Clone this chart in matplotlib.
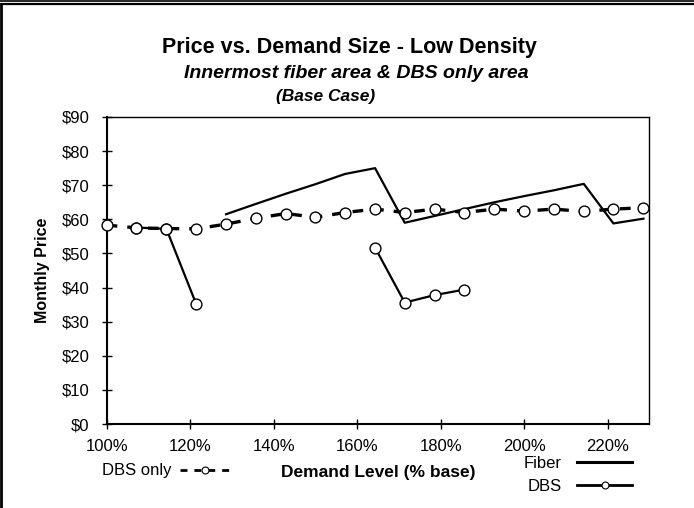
import numpy as np
import matplotlib
matplotlib.use("Agg")
from matplotlib import pyplot as plt
from matplotlib.lines import Line2D
from matplotlib.ticker import FuncFormatter

plt.rcParams["font.family"] = ["Liberation Sans", "DejaVu Sans"]

# demand level (% of base) at each step
demand = [100.0, 107.1, 114.3, 121.4, 128.6, 135.7, 142.9, 150.0, 157.1, 164.3,
          171.4, 178.6, 185.7, 192.9, 200.0, 207.1, 214.3, 221.4, 228.6]

dbs_only = [58.3, 57.5, 57.3, 57.2, 58.6, 60.3, 61.7, 60.6, 62.0, 63.0,
            62.0, 63.0, 62.0, 63.0, 62.4, 63.0, 62.3, 63.0, 63.4]

fiber = [np.nan, np.nan, np.nan, np.nan, 61.5, 64.5, 67.5, 70.3, 73.3, 75.0,
         59.0, 61.0, 63.0, 65.0, 66.8, 68.5, 70.4, 58.8, 60.2]

dbs = [np.nan, 57.6, 57.2, 35.3, np.nan, np.nan, np.nan, np.nan, np.nan, 51.7,
       35.6, 37.8, 39.4, np.nan, np.nan, np.nan, np.nan, np.nan, np.nan]

W, H = 694, 508
fig = plt.figure(figsize=(W / 100, H / 100), dpi=100)
ax = fig.add_axes([106.7 / W, 1 - 424 / H, (649.3 - 106.7) / W, (424 - 117) / H])

fib_line, = ax.plot(demand, fiber, color="black", lw=1.6, zorder=3)
dbs_line, = ax.plot(demand, dbs, color="black", lw=1.6, marker="o", ms=7.8,
                    mfc="white", mec="black", mew=1.0, zorder=4, clip_on=False)
only_line, = ax.plot(demand, dbs_only, color="black", lw=2.4, marker="o", ms=7.8,
                     mfc="white", mec="black", mew=1.0, zorder=5, clip_on=False)
only_line.set_dashes([3.2, 3.0])

ax.set_xlim(100, 230)
ax.set_ylim(0, 90)
ax.set_xticks(np.arange(100, 221, 20))
ax.set_yticks(np.arange(0, 91, 10))
ax.xaxis.set_major_formatter(FuncFormatter(lambda v, p: "%d%%" % v))
ax.yaxis.set_major_formatter(FuncFormatter(lambda v, p: "$%d" % v))
ax.tick_params(direction="inout", length=7, width=1.0, labelsize=12, colors="black")
ax.tick_params(axis="x", pad=7)
ax.tick_params(axis="y", pad=9)
for s in ["left", "bottom"]:
    ax.spines[s].set_linewidth(1.5)
for s in ["top", "right"]:
    ax.spines[s].set_linewidth(1.0)

ax.set_ylabel("Monthly Price", fontsize=11.5, fontweight="bold", labelpad=8)
fig.text(378 / W, 1 - 473 / H, "Demand Level (% base)", fontsize=12.5, fontweight="bold",
         ha="center", va="center")

fig.text(349 / W, 1 - 47 / H, "Price vs. Demand Size - Low Density", fontsize=15.5,
         fontweight="bold", ha="center", va="center")
fig.text(356 / W, 1 - 74 / H, "Innermost fiber area & DBS only area", fontsize=14,
         fontweight="bold", style="italic", ha="center", va="center")
fig.text(326 / W, 1 - 97 / H, "(Base Case)", fontsize=12.5,
         fontweight="bold", style="italic", ha="center", va="center")

# legends under the plot
h_only = Line2D([], [], color="black", lw=2.0, dashes=[2.5, 2.5], marker="o", ms=5,
                mfc="white", mec="black", mew=0.8)
h_fib = Line2D([], [], color="black", lw=2.2)
h_dbs = Line2D([], [], color="black", lw=2.0, marker="o", ms=5,
               mfc="white", mec="black", mew=0.8)
leg1 = fig.legend([h_only], ["DBS only"], loc="center", markerfirst=False,
                  bbox_to_anchor=(166 / W, 1 - 471 / H), frameon=False,
                  fontsize=12, handlelength=3.0, handletextpad=0.5)
leg2 = fig.legend([h_fib, h_dbs], ["Fiber", "DBS"], loc="center", markerfirst=False,
                  bbox_to_anchor=(578 / W, 1 - 475 / H), frameon=False,
                  fontsize=12, handlelength=3.3, handletextpad=0.9, labelspacing=0.45)

# outer frame
fig.add_artist(Line2D([0, 1], [1 - 0.8 / H, 1 - 0.8 / H], transform=fig.transFigure,
                      color="black", lw=1.2))
fig.add_artist(Line2D([0, 1], [1 - 4.3 / H, 1 - 4.3 / H], transform=fig.transFigure,
                      color="black", lw=1.6))
fig.add_artist(Line2D([1 / W, 1 / W], [0, 1 - 4.3 / H], transform=fig.transFigure,
                      color="black", lw=2.0))

fig.savefig("out.png", dpi=100)
